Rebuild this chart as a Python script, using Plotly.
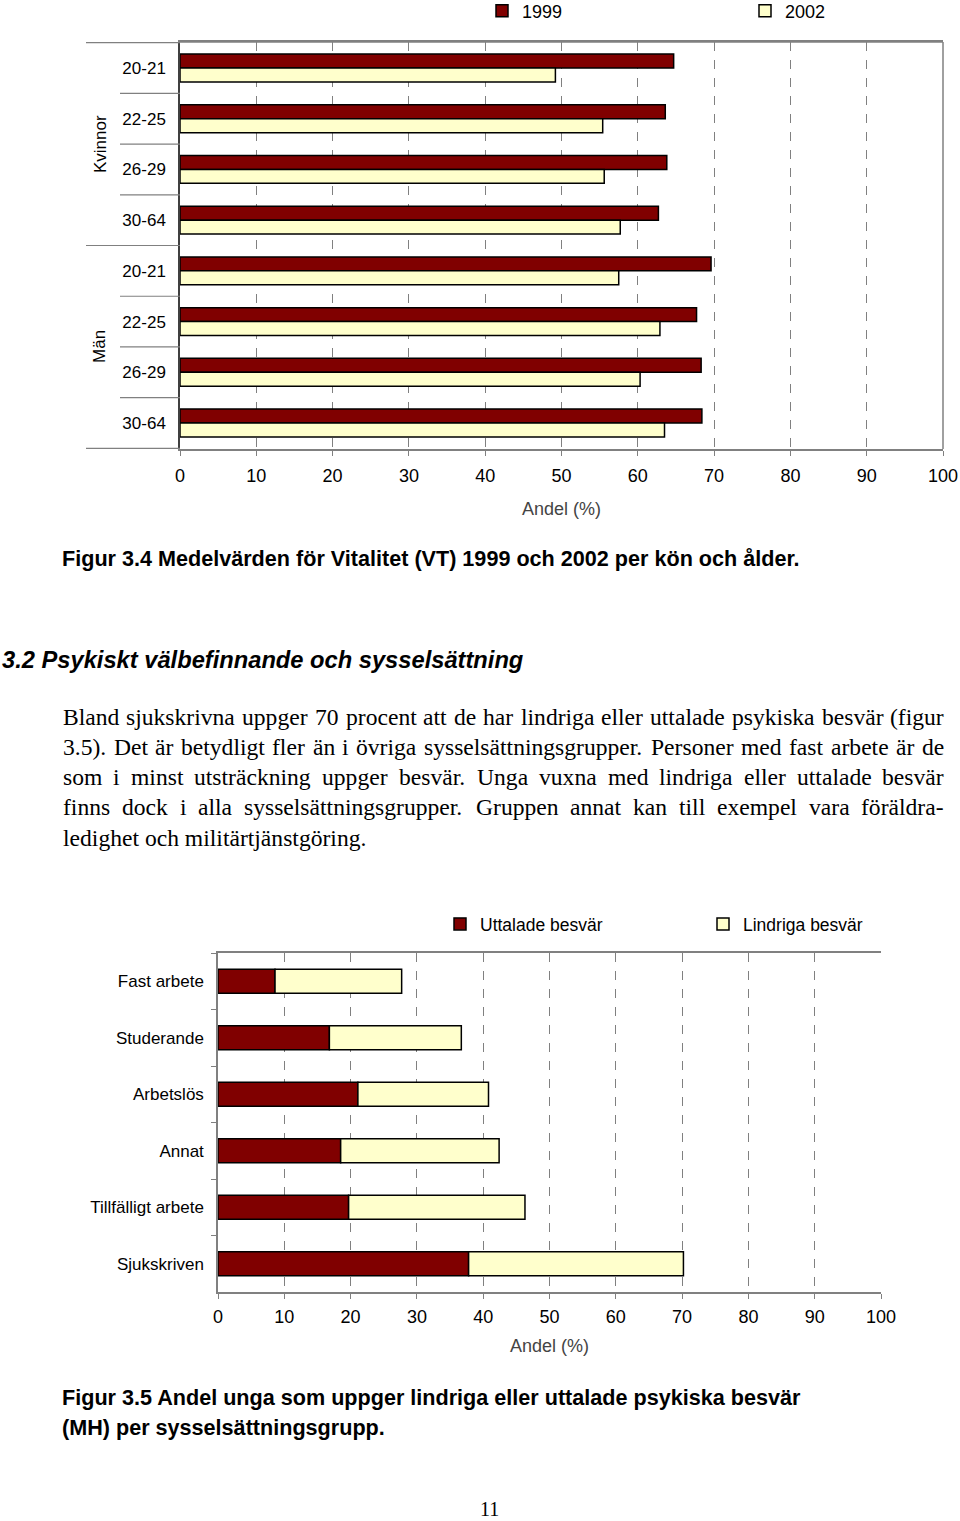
import plotly.graph_objects as go

# ---------------- data ----------------
groups = ["Kvinnor", "Män"]
ages = ["20-21", "22-25", "26-29", "30-64"]
vt_1999 = [64.7, 63.6, 63.8, 62.7, 69.6, 67.7, 68.3, 68.4]
vt_2002 = [49.2, 55.4, 55.6, 57.7, 57.5, 62.9, 60.3, 63.5]

mh_groups = ["Fast arbete", "Studerande", "Arbetslös", "Annat",
             "Tillfälligt arbete", "Sjukskriven"]
uttalade = [8.6, 16.8, 21.1, 18.5, 19.7, 37.8]
lindriga = [19.1, 19.9, 19.7, 23.9, 26.6, 32.4]

x_ticks = list(range(0, 101, 10))

# ---------------- styles ----------------
W, H = 960, 1521
MAROON = "#800000"
CREAM = "#FFFFCC"
GRAY = "#808080"
SANS = "Liberation Sans, Arial, sans-serif"
SERIF = "Liberation Serif, Times New Roman, serif"


def px(x):
    return x / W


def py(y):
    return 1 - y / H


fig = go.Figure()

keys = [f"{g} {a}" for g in groups for a in ages]
fig.add_trace(go.Bar(y=keys, x=vt_1999, orientation="h", name="1999",
                     marker=dict(color=MAROON, line=dict(color="black", width=1.5)),
                     xaxis="x", yaxis="y", legend="legend"))
fig.add_trace(go.Bar(y=keys, x=vt_2002, orientation="h", name="2002",
                     marker=dict(color=CREAM, line=dict(color="black", width=1.5)),
                     xaxis="x", yaxis="y", legend="legend"))

bw2 = 0.425
fig.add_trace(go.Bar(y=mh_groups, x=uttalade, orientation="h", name="Uttalade besvär",
                     marker=dict(color=MAROON, line=dict(color="black", width=1.5)),
                     width=bw2, offset=-bw2 / 2, offsetgroup="mh",
                     xaxis="x2", yaxis="y2", legend="legend2"))
fig.add_trace(go.Bar(y=mh_groups, x=lindriga, base=uttalade, orientation="h",
                     name="Lindriga besvär",
                     marker=dict(color=CREAM, line=dict(color="black", width=1.5)),
                     width=bw2, offset=-bw2 / 2, offsetgroup="mh",
                     xaxis="x2", yaxis="y2", legend="legend2"))

xcommon = dict(range=[0, 100], tickvals=x_ticks, showgrid=True, gridcolor=GRAY,
               griddash="dash", gridwidth=1, showline=True, linecolor=GRAY,
               linewidth=1.5, mirror=True, ticks="outside", ticklen=5,
               tickcolor=GRAY, tickfont=dict(family=SANS, size=18, color="black"),
               zeroline=False, automargin=False, fixedrange=True)

fig.update_layout(
    width=W, height=H, template="none",
    margin=dict(l=0, r=0, t=0, b=0, autoexpand=False),
    paper_bgcolor="white", plot_bgcolor="white",
    barmode="group", bargap=0.45, bargroupgap=0,
    xaxis=dict(domain=[px(180), px(943)], anchor="y", ticklabelstandoff=5,
               title=dict(text="Andel (%)", font=dict(family=SANS, size=18), standoff=17),
               **xcommon),
    yaxis=dict(domain=[py(449), py(42)], anchor="x", type="category",
               autorange="reversed", tickvals=keys, ticktext=ages * len(groups),
               ticks="", ticklabelstandoff=9, showline=True, linecolor="#404040",
               linewidth=1.5, mirror=False, showgrid=False, zeroline=False,
               tickfont=dict(family=SANS, size=17, color="black"),
               automargin=False, fixedrange=True),
    xaxis2=dict(domain=[px(218), px(881)], anchor="y2", ticklabelstandoff=3,
                title=dict(text="Andel (%)", font=dict(family=SANS, size=18), standoff=13),
                **xcommon),
    yaxis2=dict(domain=[py(1292), py(953)], anchor="x2", type="category",
                autorange="reversed", ticks="outside", tickson="boundaries",
                ticklen=5, tickcolor=GRAY, ticklabelstandoff=9,
                showline=True, linecolor=GRAY, linewidth=1.5, mirror=False,
                showgrid=False, zeroline=False,
                tickfont=dict(family=SANS, size=17, color="black"),
                automargin=False, fixedrange=True),
    legend=dict(orientation="h", x=px(482), y=py(11), xanchor="left", yanchor="middle",
                entrywidth=218, entrywidthmode="pixels", itemwidth=30,
                font=dict(family=SANS, size=18, color="black"),
                bgcolor="rgba(0,0,0,0)", traceorder="normal", itemclick=False),
    legend2=dict(orientation="h", x=px(440), y=py(924), xanchor="left", yanchor="middle",
                 entrywidth=218, entrywidthmode="pixels", itemwidth=30,
                 font=dict(family=SANS, size=17.5, color="black"),
                 bgcolor="rgba(0,0,0,0)", traceorder="normal", itemclick=False),
)

# top/right frame for chart 1 (left axis dark)
shapes = []
shapes.append(dict(type="line", xref="paper", yref="paper", x0=px(180), x1=px(943),
                   y0=py(42), y1=py(42), line=dict(color=GRAY, width=1.5)))
shapes.append(dict(type="line", xref="paper", yref="paper", x0=px(943), x1=px(943),
                   y0=py(42), y1=py(449), line=dict(color=GRAY, width=1.5)))
# category separators for multi-level axis of chart 1
n = len(keys)
for i in range(n + 1):
    b = i - 0.5
    is_group = (i % len(ages) == 0)
    shapes.append(dict(type="line", xref="paper", yref="y",
                       x0=px(86) if is_group else px(120), x1=px(180),
                       y0=b, y1=b, line=dict(color=GRAY, width=1.2)))
fig.update_layout(shapes=shapes)

ann = []
# rotated group labels
for gi, g in enumerate(groups):
    center = gi * len(ages) + (len(ages) - 1) / 2
    ann.append(dict(text=g, xref="paper", yref="y", x=px(100), y=center,
                    xanchor="center", yanchor="middle",
                    textangle=-90, showarrow=False,
                    font=dict(family=SANS, size=17, color="black")))


def text(t, x, y, size, family=SANS, bold=False, italic=False, xanchor="left"):
    s = t
    if bold:
        s = f"<b>{s}</b>"
    if italic:
        s = f"<i>{s}</i>"
    ann.append(dict(text=s, xref="paper", yref="paper", x=px(x), y=py(y),
                    xanchor=xanchor, yanchor="middle", showarrow=False,
                    font=dict(family=family, size=size, color="black")))


text("Figur 3.4 Medelvärden för Vitalitet (VT) 1999 och 2002 per kön och ålder.",
     60, 558, 21.6, bold=True)
text("3.2 Psykiskt välbefinnande och sysselsättning", 0, 660, 23.7, bold=True, italic=True)

# justified paragraph (Times metrics)
TIMES = {" ": 250, "a": 444, "b": 500, "c": 444, "d": 500, "e": 444, "f": 333, "g": 500,
         "h": 500, "i": 278, "j": 278, "k": 500, "l": 278, "m": 778, "n": 500, "o": 500,
         "p": 500, "q": 500, "r": 333, "s": 389, "t": 278, "u": 500, "v": 500, "w": 722,
         "x": 500, "y": 500, "z": 444, "ä": 444, "ö": 500, "å": 444, "B": 667, "D": 722,
         "G": 722, "P": 556, "U": 722, ".": 250, ",": 250, "(": 333, ")": 333, "-": 333}
PSIZE = 23.6


def tw(s):
    return sum(TIMES.get(c, 500) for c in s) / 1000 * PSIZE


para = [
    "Bland sjukskrivna uppger 70 procent att de har lindriga eller uttalade psykiska besvär (figur",
    "3.5). Det är betydligt fler än i övriga sysselsättningsgrupper. Personer med fast arbete är de",
    "som i minst utsträckning uppger besvär. Unga vuxna med lindriga eller uttalade besvär",
    "finns dock i alla sysselsättningsgrupper. Gruppen annat kan till exempel vara föräldra-",
    "ledighet och militärtjänstgöring.",
]
line_y = [717, 747, 777, 807, 838]
left, right = 61, 942
for li, (line, yy) in enumerate(zip(para, line_y)):
    if li == len(para) - 1:
        text(line, left, yy, PSIZE, family=SERIF)
        continue
    words = line.split(" ")
    total = sum(tw(w) for w in words)
    gap = (right - left - total) / (len(words) - 1)
    xx = left
    for w in words:
        text(w, xx, yy, PSIZE, family=SERIF)
        xx += tw(w) + gap

text("Figur 3.5 Andel unga som uppger lindriga eller uttalade psykiska besvär",
     60, 1397, 21.6, bold=True)
text("(MH) per sysselsättningsgrupp.", 60, 1427, 21.6, bold=True)
text("11", 490, 1509, 20, family=SERIF, xanchor="center")

fig.update_layout(annotations=ann)
fig.write_html("out.html", config={"displayModeBar": False},
               post_script="document.body.style.margin='0';document.body.style.overflow='hidden';")
